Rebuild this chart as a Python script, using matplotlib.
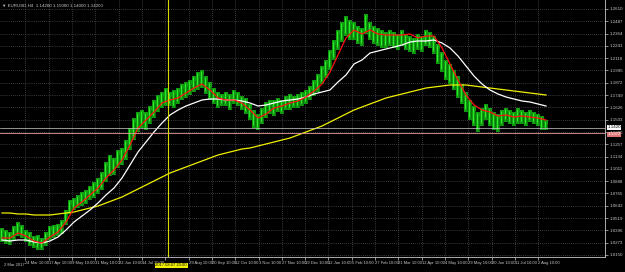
import matplotlib.pyplot as plt
import matplotlib.transforms as mtransforms
import numpy as np

# EURUSD H4, one sample every few bars (high / low of the candles)
highs = [1.042, 1.040, 1.038, 1.044, 1.048, 1.045, 1.040, 1.038, 1.034, 1.035,
         1.032, 1.038, 1.044, 1.045, 1.046, 1.050, 1.060, 1.070, 1.072, 1.075,
         1.078, 1.080, 1.084, 1.088, 1.092, 1.098, 1.108, 1.115, 1.112, 1.120,
         1.122, 1.130, 1.142, 1.152, 1.158, 1.160, 1.158, 1.164, 1.170, 1.175,
         1.178, 1.182, 1.178, 1.180, 1.182, 1.186, 1.188, 1.190, 1.194, 1.198,
         1.200, 1.194, 1.188, 1.182, 1.178, 1.176, 1.178, 1.176, 1.180, 1.178,
         1.174, 1.172, 1.166, 1.160, 1.156, 1.162, 1.168, 1.170, 1.170, 1.172,
         1.170, 1.174, 1.176, 1.174, 1.176, 1.178, 1.180, 1.184, 1.190, 1.196,
         1.204, 1.210, 1.220, 1.230, 1.240, 1.248, 1.254, 1.250, 1.248, 1.244,
         1.242, 1.256, 1.248, 1.244, 1.242, 1.240, 1.238, 1.240, 1.238, 1.236,
         1.240, 1.236, 1.234, 1.232, 1.236, 1.234, 1.240, 1.238, 1.234, 1.226,
         1.218, 1.210, 1.206, 1.200, 1.194, 1.186, 1.178, 1.170, 1.164, 1.158,
         1.162, 1.166, 1.162, 1.158, 1.156, 1.160, 1.162, 1.160, 1.158, 1.162,
         1.160, 1.158, 1.160, 1.158, 1.156, 1.154, 1.150]
lows = [1.028, 1.026, 1.025, 1.030, 1.034, 1.032, 1.028, 1.024, 1.022, 1.020,
        1.020, 1.024, 1.030, 1.032, 1.034, 1.036, 1.045, 1.056, 1.060, 1.062,
        1.064, 1.066, 1.070, 1.072, 1.076, 1.080, 1.088, 1.094, 1.095, 1.102,
        1.105, 1.110, 1.120, 1.130, 1.138, 1.142, 1.140, 1.146, 1.152, 1.158,
        1.162, 1.164, 1.164, 1.162, 1.166, 1.170, 1.172, 1.175, 1.178, 1.180,
        1.182, 1.176, 1.170, 1.166, 1.162, 1.164, 1.164, 1.160, 1.166, 1.164,
        1.160, 1.156, 1.150, 1.142, 1.140, 1.146, 1.152, 1.156, 1.154, 1.158,
        1.156, 1.160, 1.160, 1.162, 1.162, 1.164, 1.166, 1.170, 1.174, 1.178,
        1.186, 1.192, 1.200, 1.210, 1.220, 1.228, 1.234, 1.230, 1.230, 1.226,
        1.224, 1.236, 1.230, 1.226, 1.224, 1.222, 1.222, 1.224, 1.222, 1.220,
        1.224, 1.220, 1.218, 1.216, 1.220, 1.218, 1.224, 1.222, 1.216, 1.206,
        1.198, 1.190, 1.186, 1.180, 1.172, 1.166, 1.158, 1.150, 1.144, 1.138,
        1.144, 1.150, 1.144, 1.140, 1.138, 1.144, 1.148, 1.146, 1.144, 1.146,
        1.146, 1.144, 1.148, 1.146, 1.144, 1.140, 1.140]

# moving averages, one value every second sample
ma_fast = [1.032, 1.032, 1.037, 1.034, 1.029, 1.027, 1.033, 1.038, 1.048, 1.062,
           1.068, 1.075, 1.082, 1.092, 1.100, 1.110, 1.125, 1.142, 1.150, 1.158,
           1.167, 1.170, 1.172, 1.177, 1.182, 1.186, 1.180, 1.172, 1.170, 1.170,
           1.167, 1.160, 1.152, 1.156, 1.162, 1.164, 1.167, 1.169, 1.173, 1.179,
           1.186, 1.198, 1.215, 1.232, 1.240, 1.236, 1.240, 1.236, 1.235, 1.235,
           1.235, 1.236, 1.232, 1.234, 1.234, 1.222, 1.206, 1.190, 1.175, 1.165,
           1.160, 1.158, 1.154, 1.155, 1.153, 1.154, 1.153, 1.152, 1.150]
ma_mid = [1.030, 1.029, 1.030, 1.030, 1.028, 1.027, 1.029, 1.033, 1.040, 1.048,
          1.054, 1.060, 1.067, 1.075, 1.082, 1.092, 1.105, 1.118, 1.128, 1.138,
          1.147, 1.155, 1.160, 1.164, 1.167, 1.170, 1.171, 1.171, 1.170, 1.170,
          1.169, 1.167, 1.164, 1.165, 1.167, 1.169, 1.170, 1.171, 1.173, 1.176,
          1.178, 1.180, 1.188, 1.195, 1.206, 1.210, 1.217, 1.219, 1.221, 1.223,
          1.225, 1.228, 1.229, 1.229, 1.230, 1.227, 1.222, 1.214, 1.204, 1.194,
          1.186, 1.180, 1.176, 1.173, 1.171, 1.169, 1.168, 1.166, 1.164]
ma_slow = [1.057, 1.057, 1.056, 1.056, 1.055, 1.055, 1.055, 1.056, 1.057, 1.058,
           1.060, 1.062, 1.064, 1.067, 1.070, 1.073, 1.077, 1.081, 1.085, 1.089,
           1.093, 1.097, 1.100, 1.103, 1.106, 1.109, 1.112, 1.115, 1.117, 1.119,
           1.121, 1.122, 1.124, 1.126, 1.128, 1.130, 1.132, 1.135, 1.138, 1.141,
           1.144, 1.148, 1.152, 1.156, 1.160, 1.163, 1.166, 1.169, 1.172, 1.174,
           1.176, 1.178, 1.180, 1.182, 1.183, 1.184, 1.185, 1.185, 1.185, 1.184,
           1.183, 1.182, 1.181, 1.180, 1.179, 1.178, 1.177, 1.176, 1.175]

date_labels = ['24 Mar 10:00', '17 Apr 10:00', '9 May 10:00', '31 May 10:00',
               '22 Jun 10:00', '14 Jul 10:00', '', '29 Aug 10:00', '20 Sep 10:00',
               '12 Oct 10:00', '3 Nov 10:00', '27 Nov 10:00', '19 Dec 10:00',
               '12 Jan 10:00', '5 Feb 10:00', '27 Feb 10:00', '21 Mar 10:00',
               '12 Apr 10:00', '4 May 10:00', '29 May 10:00', '20 Jun 10:00',
               '11 Jul 10:00', '2 Aug 10:00']
price_ticks = [1.2610, 1.2487, 1.2364, 1.2241, 1.2118, 1.1995, 1.1872, 1.1749,
               1.1626, 1.1503, 1.1380, 1.1257, 1.1134, 1.1011, 1.0888, 1.0765,
               1.0642, 1.0519, 1.0396, 1.0273, 1.0150]
bid = 1.1420
ask = 1.1372
marker_label = '2017.08.07 20:00'

fg = '#c8c8c8'
fnt = 'Liberation Sans'
fs = 3.2
fig = plt.figure(figsize=(6.25, 2.72), dpi=100, facecolor='black')
ax = fig.add_axes([0, 15 / 272, 605 / 625, 257 / 272], facecolor='black')

x = np.arange(len(highs))
ax.vlines(x, lows, highs, color='#109a10', lw=2.9, zorder=2)
ax.vlines(x - 0.25, np.array(lows) + 0.003, np.array(highs) - 0.001,
          color='#30ff30', lw=0.6, zorder=3)
ax.vlines(x + 0.3, np.array(lows) + 0.001, np.array(highs) - 0.004,
          color='#0b5e0b', lw=0.5, zorder=3)

xm = np.arange(len(ma_fast)) * 2
ax.plot(xm, ma_slow, color='#f0f000', lw=0.9, zorder=4)
ax.plot(xm, ma_mid, color='white', lw=0.9, zorder=5)
ax.plot(xm, ma_fast, color='#ff1010', lw=0.9, zorder=6)

ax.axhline(bid, color='#d0d0d0', lw=0.5, zorder=7)
ax.axhline(ask, color='#e89a9a', lw=0.6, zorder=7)

ax.set_xlim(-0.5, 150.75)
ax.set_ylim(1.013, 1.270)

# grid
xt = np.arange(1, len(date_labels) + 1) * 5.83
ax.set_xticks(xt)
ax.set_xticklabels(date_labels, ha='left', fontsize=3.0, color=fg, family=fnt)
ax.set_yticks(price_ticks)
ax.set_yticklabels(['%.4f' % p for p in price_ticks], fontsize=fs, color=fg, family=fnt)
ax.yaxis.tick_right()
ax.tick_params(axis='both', length=2, width=0.5, colors=fg, pad=1.2)
ax.grid(True, color='#6a6f78', lw=0.5, ls=(0, (1, 2)))
for s in ['top', 'left']:
    ax.spines[s].set_visible(False)
for s in ['right', 'bottom']:
    ax.spines[s].set_color(fg)
    ax.spines[s].set_linewidth(0.6)

bt = mtransforms.blended_transform_factory(ax.transData, ax.transAxes)
ax.text(0.5, -0.025, '2 Mar 2017', transform=bt, family=fnt,
        fontsize=3.0, color=fg, va='top', ha='left')

# vertical marker line with its date box
marker_x = 41.5
ax.axvline(marker_x, color='#d8d800', lw=0.8, zorder=8)
ax.text(marker_x + 0.8, -0.025, marker_label, transform=bt, family=fnt,
        fontsize=3.0, color='black', va='top', ha='center', zorder=9,
        bbox=dict(facecolor='#f0f000', edgecolor='none', pad=0.5), clip_on=False)

# price boxes on the right scale
tr = mtransforms.blended_transform_factory(ax.transAxes, ax.transData)
ax.text(1.004, bid + 0.0005, '%.4f' % bid, transform=tr, fontsize=fs, color='black', family=fnt,
        va='center', ha='left', zorder=9, clip_on=False,
        bbox=dict(facecolor='white', edgecolor='none', pad=0.2))
ax.text(1.004, ask - 0.0015, '%.4f' % ask, transform=tr, fontsize=fs, color='white', family=fnt,
        va='center', ha='left', zorder=9, clip_on=False,
        bbox=dict(facecolor='#e07878', edgecolor='none', pad=0.2))

# header
ax.text(0.004, 0.988, '\u25bc EURUSD,H4  %.5f %.5f %.5f %.5f' % (highs[-1] - 0.008, highs[-1], lows[-1], bid),
        transform=ax.transAxes, fontsize=fs, color=fg, va='top', ha='left', zorder=9,
        family=[fnt, 'DejaVu Sans'])

fig.savefig('out.png', dpi=100, facecolor='black')
